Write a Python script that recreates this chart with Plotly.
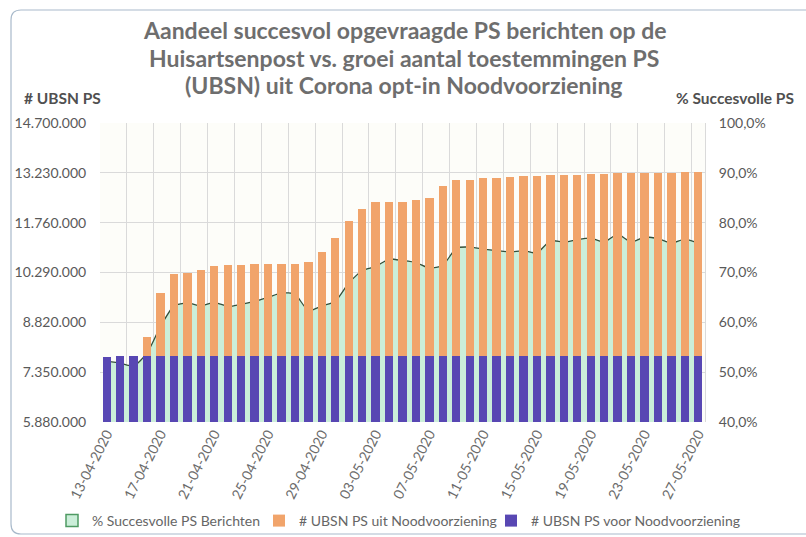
import plotly.graph_objects as go
import pandas as pd

# ---- data -------------------------------------------------------------
dates = [d.strftime("%d-%m-%Y") for d in pd.date_range("2020-04-13", "2020-05-27")]

ubsn_voor = [7.80e6, 7.84e6, 7.84e6, 7.82e6, 7.82e6, 7.82e6, 7.82e6, 7.82e6, 7.82e6,
             7.82e6, 7.82e6, 7.82e6, 7.82e6, 7.82e6, 7.82e6, 7.82e6, 7.82e6, 7.82e6,
             7.82e6, 7.82e6, 7.82e6, 7.82e6, 7.82e6, 7.82e6, 7.82e6, 7.82e6, 7.82e6,
             7.82e6, 7.82e6, 7.82e6, 7.82e6, 7.82e6, 7.82e6, 7.82e6, 7.82e6, 7.82e6,
             7.82e6, 7.82e6, 7.82e6, 7.82e6, 7.82e6, 7.82e6, 7.82e6, 7.82e6, 7.82e6]

ubsn_uit = [0.0, 0.0, 0.0, 0.57e6, 1.87e6, 2.42e6, 2.45e6, 2.54e6, 2.65e6,
            2.68e6, 2.70e6, 2.72e6, 2.73e6, 2.73e6, 2.73e6, 2.77e6, 3.07e6, 3.48e6,
            4.00e6, 4.34e6, 4.54e6, 4.56e6, 4.56e6, 4.60e6, 4.67e6, 5.02e6, 5.19e6,
            5.19e6, 5.25e6, 5.27e6, 5.30e6, 5.32e6, 5.33e6, 5.34e6, 5.34e6, 5.34e6,
            5.39e6, 5.39e6, 5.41e6, 5.41e6, 5.41e6, 5.41e6, 5.41e6, 5.43e6, 5.44e6]

pct_succes = [0.522, 0.518, 0.512, 0.538, 0.592, 0.633, 0.639, 0.633, 0.640,
              0.632, 0.636, 0.642, 0.650, 0.659, 0.657, 0.623, 0.633, 0.642,
              0.679, 0.704, 0.712, 0.727, 0.724, 0.720, 0.709, 0.714, 0.749,
              0.751, 0.747, 0.744, 0.741, 0.744, 0.739, 0.764, 0.761, 0.766,
              0.769, 0.761, 0.777, 0.761, 0.771, 0.768, 0.759, 0.767, 0.759]

left_ticks = [5880000, 7350000, 8820000, 10290000, 11760000, 13230000, 14700000]
right_ticks = [0.4, 0.5, 0.6, 0.7, 0.8, 0.9, 1.0]

title_lines = ["Aandeel succesvol opgevraagde PS berichten op de",
               "Huisartsenpost vs. groei aantal toestemmingen PS",
               "(UBSN) uit Corona opt-in Noodvoorziening"]

series_names = ["% Succesvolle PS Berichten",
                "# UBSN PS uit Noodvoorziening",
                "# UBSN PS voor Noodvoorziening"]

# ---- figure -----------------------------------------------------------
x = list(range(len(dates)))
FONT = "Lato"
GREEN_FILL, GREEN_LINE = "#cbeed9", "#34503a"
ORANGE, BLUE = "#f1a46b", "#5847b3"

fig = go.Figure()

fig.add_trace(go.Scatter(
    x=x, y=pct_succes, yaxis="y", name=series_names[0],
    mode="lines", line=dict(color=GREEN_LINE, width=1.3, shape="spline", smoothing=0.5),
    fill="tozeroy", fillcolor=GREEN_FILL, showlegend=False))

# legend entry for the area series (square swatch like the original)
fig.add_trace(go.Bar(
    x=[None], y=[None], yaxis="y2", name=series_names[0], legend="legend",
    marker=dict(color=GREEN_FILL, line=dict(color="#4f9a63", width=1.5))))

fig.add_trace(go.Bar(
    x=x, y=ubsn_voor, yaxis="y2", name=series_names[2], legend="legend3",
    marker=dict(color=BLUE, line=dict(width=0)), width=0.62))

fig.add_trace(go.Bar(
    x=x, y=ubsn_uit, yaxis="y2", name=series_names[1], legend="legend2",
    marker=dict(color=ORANGE, line=dict(width=0)), width=0.62))

W, H = 806, 537
L, R, T, B = 100, 101, 123, 115
pw, ph = W - L - R, H - T - B


def px(xp):
    return (xp - L) / pw


def py(yp):
    return (H - B - yp) / ph


# rounded outer frame
x0, x1, y0, y1 = px(11), px(818), py(10), py(534)
rx, ry = 10 / pw, 10 / ph
frame = (f"M {x0+rx},{y0} L {x1-rx},{y0} Q {x1},{y0} {x1},{y0-ry} "
         f"L {x1},{y1+ry} Q {x1},{y1} {x1-rx},{y1} L {x0+rx},{y1} "
         f"Q {x0},{y1} {x0},{y1+ry} L {x0},{y0-ry} Q {x0},{y0} {x0+rx},{y0} Z")

leg_font = dict(family=FONT, size=14, color="#666666")


def legend_at(xpix):
    return dict(orientation="h", xref="container", x=xpix / W, xanchor="left",
                yref="container", y=(H - 521) / H, yanchor="middle",
                font=leg_font, bgcolor="rgba(0,0,0,0)", itemwidth=30)


annotations = []
for line, ypix in zip(title_lines, [30, 58, 85]):
    annotations.append(dict(text=line, xref="paper", yref="paper", x=px(404), y=py(ypix),
                            xanchor="center", yanchor="middle", showarrow=False,
                            font=dict(family=FONT, size=23, color="#6e6e6e", weight="bold")))
annotations += [
    dict(text="<b># UBSN PS</b>", xref="paper", yref="paper", x=px(22), y=py(98),
         xanchor="left", yanchor="middle", showarrow=False,
         font=dict(family=FONT, size=15.5, color="#505050")),
    dict(text="<b>% Succesvolle PS</b>", xref="paper", yref="paper", x=px(796), y=py(98),
         xanchor="right", yanchor="middle", showarrow=False,
         font=dict(family=FONT, size=15.5, color="#505050")),
]

fig.update_layout(
    width=W, height=H,
    margin=dict(l=L, r=R, t=T, b=B, autoexpand=False),
    paper_bgcolor="white", plot_bgcolor="#fdfdf9",
    separators=",.",
    barmode="stack", bargap=0.38,
    font=dict(family=FONT, color="#595959"),
    xaxis=dict(range=[-0.5, len(dates) - 0.5], tickmode="array", automargin=False,
               tickvals=x[::4], ticktext=dates[::4], tickangle=-63,
               showgrid=False, zeroline=False, ticks="",
               tickfont=dict(family=FONT, size=14, color="#6b6b6b"),
               minor=dict(tickmode="array", tickvals=[i - 0.5 for i in range(0, len(dates) + 1, 2)],
                          showgrid=True, gridcolor="#dadada", gridwidth=1, ticks="")),
    yaxis=dict(side="right", range=[0.4, 1.0], tickmode="array", tickvals=right_ticks,
               tickformat=".1%", showgrid=True, gridcolor="#dadada", zeroline=False,
               showline=True, linecolor="#dadada", ticks="outside", ticklen=10,
               tickcolor="rgba(0,0,0,0)", automargin=False,
               tickfont=dict(family=FONT, size=14, color="#595959")),
    yaxis2=dict(side="left", overlaying="y", range=[5880000, 14700000], tickmode="array",
                tickvals=left_ticks, tickformat=",d", showgrid=False, zeroline=False,
                ticks="outside", ticklen=10, tickcolor="rgba(0,0,0,0)", automargin=False,
                tickfont=dict(family=FONT, size=14, color="#595959")),
    legend=legend_at(52),
    legend2=legend_at(259),
    legend3=legend_at(491),
    showlegend=True,
    shapes=[dict(type="path", xref="paper", yref="paper", path=frame,
                 line=dict(color="#a9bacb", width=1.2), fillcolor="rgba(0,0,0,0)", layer="below")],
    annotations=annotations,
)

fig.write_html("out.html", config={"displayModeBar": False},
               post_script="document.body.style.margin='0';")
